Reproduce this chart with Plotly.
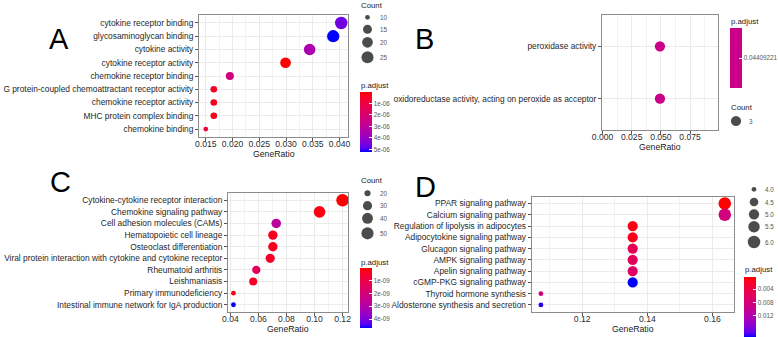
import numpy as np
import plotly.graph_objects as go

W, H = 778, 337
FONT = "Liberation Sans, Arial, sans-serif"

# ---------------- data (terms listed top to bottom) ----------------
a_terms = ["cytokine receptor binding", "glycosaminoglycan binding", "cytokine activity",
           "cytokine receptor activity", "chemokine receptor binding",
           "G protein-coupled chemoattractant receptor activity", "chemokine receptor activity",
           "MHC protein complex binding", "chemokine binding"]
a_ratio = [0.0403, 0.0388, 0.0344, 0.0299, 0.0195, 0.0165, 0.0165, 0.0165, 0.0150]
a_count = [27, 26, 23, 20, 13, 11, 11, 11, 10]
a_padj = [4.6e-06, 5.22e-06, 3.5e-06, 1.5e-08, 2.3e-06, 4.0e-07, 3.5e-07, 3.5e-07, 8.0e-07]
a_size_breaks = [10, 15, 20, 25]
a_col_breaks = [1e-06, 2e-06, 3e-06, 4e-06, 5e-06]
a_col_labels = ["1e-06", "2e-06", "3e-06", "4e-06", "5e-06"]

b_terms = ["peroxidase activity", "oxidoreductase activity, acting on peroxide as acceptor"]
b_ratio = [0.0492, 0.0492]
b_count = [3, 3]
b_padj = [0.04409221, 0.04409221]
b_size_breaks = [3]
b_col_breaks = [0.04409221]
b_col_labels = ["0.04409221"]

c_terms = ["Cytokine-cytokine receptor interaction", "Chemokine signaling pathway",
           "Cell adhesion molecules (CAMs)", "Hematopoietic cell lineage",
           "Osteoclast differentiation",
           "Viral protein interaction with cytokine and cytokine receptor",
           "Rheumatoid arthritis", "Leishmaniasis", "Primary immunodeficiency",
           "Intestinal immune network for IgA production"]
c_ratio = [0.1200, 0.1036, 0.0727, 0.0703, 0.0703, 0.0684, 0.0585, 0.0563, 0.0422, 0.0422]
c_count = [53, 46, 32, 31, 31, 30, 26, 25, 19, 19]
c_padj = [1e-11, 2.0e-10, 2.8e-09, 3.0e-10, 3.5e-10, 4.5e-10, 1.4e-09, 5.0e-10, 2.0e-10, 4.7e-09]
c_size_breaks = [20, 30, 40, 50]
c_col_breaks = [1e-09, 2e-09, 3e-09, 4e-09]
c_col_labels = ["1e-09", "2e-09", "3e-09", "4e-09"]

d_terms = ["PPAR signaling pathway", "Calcium signaling pathway",
           "Regulation of lipolysis in adipocytes", "Adipocytokine signaling pathway",
           "Glucagon signaling pathway", "AMPK signaling pathway", "Apelin signaling pathway",
           "cGMP-PKG signaling pathway", "Thyroid hormone synthesis",
           "Aldosterone synthesis and secretion"]
d_ratio = [0.1638, 0.1638, 0.1355, 0.1355, 0.1355, 0.1355, 0.1355, 0.1355, 0.1073, 0.1073]
d_count = [6, 6, 5, 5, 5, 5, 5, 5, 4, 4]
d_padj = [0.0003, 0.0085, 0.0010, 0.0012, 0.0050, 0.0056, 0.0064, 0.0185, 0.0085, 0.0180]
d_size_breaks = [4.0, 4.5, 5.0, 5.5, 6.0]
d_size_labels = ["4.0", "4.5", "5.0", "5.5", "6.0"]
d_col_breaks = [0.004, 0.008, 0.012]
d_col_labels = ["0.004", "0.008", "0.012"]


# ---------------- helpers ----------------
def srgb_to_lab(rgb):
    c = np.array(rgb, float) / 255.0
    c = np.where(c > 0.04045, ((c + 0.055) / 1.055) ** 2.4, c / 12.92)
    M = np.array([[0.4124, 0.3576, 0.1805], [0.2126, 0.7152, 0.0722], [0.0193, 0.1192, 0.9505]])
    xyz = M @ c / np.array([0.95047, 1.0, 1.08883])
    f = np.where(xyz > 0.008856, np.cbrt(xyz), 7.787 * xyz + 16 / 116)
    return np.array([116 * f[1] - 16, 500 * (f[0] - f[1]), 200 * (f[1] - f[2])])


def lab_to_srgb(lab):
    L, a, b = lab
    fy = (L + 16) / 116
    fx, fz = fy + a / 500, fy - b / 200
    f = np.array([fx, fy, fz])
    xyz = np.where(f ** 3 > 0.008856, f ** 3, (f - 16 / 116) / 7.787) * np.array([0.95047, 1.0, 1.08883])
    Mi = np.array([[3.2406, -1.5372, -0.4986], [-0.9689, 1.8758, 0.0415], [0.0557, -0.2040, 1.0570]])
    c = np.clip(Mi @ xyz, 0, 1)
    c = np.where(c > 0.0031308, 1.055 * c ** (1 / 2.4) - 0.055, 12.92 * c)
    r, g, bb = np.clip(np.round(c * 255), 0, 255).astype(int)
    return f"rgb({r},{g},{bb})"


lab_red, lab_blue = srgb_to_lab([255, 0, 0]), srgb_to_lab([0, 0, 255])
# colour value = -p.adjust, so 0 -> blue (high p), 1 -> red (low p)
CS = [[t, lab_to_srgb(lab_blue + (lab_red - lab_blue) * t)] for t in np.linspace(0, 1, 21)]
MID = lab_to_srgb((lab_red + lab_blue) / 2)

DMIN, DMAX = 4.8, 12.5


def dot_px(vals, lo, hi):
    out = []
    for v in vals:
        t = 0.5 if hi == lo else (v - lo) / (hi - lo)
        out.append(DMIN + (DMAX - DMIN) * np.sqrt(max(t, 0)))
    return out


def xdom(x0, x1):
    return [x0 / W, x1 / W]


def ydom(y0, y1):
    return [1 - y1 / H, 1 - y0 / H]


fig = go.Figure()
annotations = []

panels = [
    dict(key="1", terms=a_terms, ratio=a_ratio, count=a_count, padj=a_padj,
         box=(199, 348, 15, 137), dtick=0.005, tick0=0.015, fmt=".3f", xr=None,
         cb=(360, 92), cbt=(360, 85), cbb=a_col_breaks, cbl=a_col_labels,
         cnt=(360, 5), keys=(367.5, [17.3, 29.3, 42.3, 57.3]), kb=a_size_breaks,
         kl=[str(v) for v in a_size_breaks], klx=378, letter=("A", 59, 38.5)),
    dict(key="2", terms=b_terms, ratio=b_ratio, count=b_count, padj=b_padj,
         box=(602, 718, 15, 130), dtick=0.025, tick0=0.0, fmt=".3f", xr=[-0.0004, 0.0989],
         cb=(730, 28), cbt=(730, 21), cbb=b_col_breaks, cbl=b_col_labels,
         cnt=(730, 107), keys=(736, [121]), kb=b_size_breaks,
         kl=[str(v) for v in b_size_breaks], klx=747, letter=("B", 424.5, 39)),
    dict(key="3", terms=c_terms, ratio=c_ratio, count=c_count, padj=c_padj,
         box=(228, 348, 193.3, 311.7), dtick=0.02, tick0=0.04, fmt=".2f", xr=None,
         cb=(360, 268), cbt=(360, 262), cbb=c_col_breaks, cbl=c_col_labels,
         cnt=(360, 180), keys=(367.5, [193.3, 205.7, 218.3, 233.3]), kb=c_size_breaks,
         kl=[str(v) for v in c_size_breaks], klx=378, letter=("C", 60, 182)),
    dict(key="4", terms=d_terms, ratio=d_ratio, count=d_count, padj=d_padj,
         box=(531.7, 734, 196.7, 311.7), dtick=0.02, tick0=0.12, fmt=".2f", xr=None,
         cb=(744, 277), cbt=(744, 269), cbb=d_col_breaks, cbl=d_col_labels,
         cnt=None, keys=(754, [189.3, 202, 214.3, 226.7, 242]), kb=d_size_breaks,
         kl=d_size_labels, klx=763, letter=("D", 425.5, 187)),
]

lay = {}
for p in panels:
    k = p["key"]
    x0, x1, y0, y1 = p["box"]
    lo, hi = min(p["count"]), max(p["count"])
    pmin, pmax = min(p["padj"]), max(p["padj"])
    if pmin == pmax:
        cmin, cmax = -pmax * 1.001, -pmin * 0.999
        cs = [[0, MID], [1, MID]]
    else:
        cmin, cmax = -pmax, -pmin
        cs = CS
    cat_order = list(reversed(p["terms"]))
    fig.add_trace(go.Scatter(
        x=p["ratio"], y=p["terms"], mode="markers", xaxis="x" + k, yaxis="y" + k,
        showlegend=False, hoverinfo="x+y",
        marker=dict(size=dot_px(p["count"], lo, hi), color=[-v for v in p["padj"]],
                    colorscale=cs, cmin=cmin, cmax=cmax, opacity=1,
                    line=dict(width=0),
                    showscale=True,
                    colorbar=dict(x=p["cb"][0] / W, xanchor="left", xpad=0,
                                  y=1 - p["cb"][1] / H, yanchor="top", ypad=0,
                                  len=60, lenmode="pixels", thickness=12,
                                  thicknessmode="pixels", outlinewidth=0,
                                  ticks="inside", ticklen=3, tickcolor="white",
                                  tickwidth=1,
                                  tickvals=[-v for v in p["cbb"]], ticktext=p["cbl"],
                                  tickfont=dict(size=6.3, color="#555555", family=FONT)))))
    if p["xr"] is None:
        span = max(p["ratio"]) - min(p["ratio"])
        xr = [min(p["ratio"]) - 0.05 * span, max(p["ratio"]) + 0.05 * span]
    else:
        xr = p["xr"]
    lay["xaxis" + k] = dict(
        domain=xdom(x0, x1), anchor="y" + k, range=xr, dtick=p["dtick"], tick0=p["tick0"],
        tickformat=p["fmt"], showgrid=True, gridcolor="#ebebeb", gridwidth=1,
        minor=dict(dtick=p["dtick"] / 2, tick0=p["tick0"] + p["dtick"] / 2, showgrid=True,
                   gridcolor="#f2f2f2", gridwidth=0.6),
        zeroline=False, showline=True, mirror=True, linecolor="#8c8c8c", linewidth=1,
        ticks="outside", ticklen=3, tickcolor="#555555", tickwidth=1, ticklabelstandoff=-4,
        tickfont=dict(size=8.6, color="#2b2b2b", family=FONT), fixedrange=True)
    lay["yaxis" + k] = dict(
        domain=ydom(y0, y1), anchor="x" + k, type="category", categoryorder="array",
        categoryarray=cat_order, range=[-0.6, len(cat_order) - 0.4],
        showgrid=True, gridcolor="#ebebeb", gridwidth=1, zeroline=False,
        showline=True, mirror=True, linecolor="#8c8c8c", linewidth=1,
        ticks="outside", ticklen=3, tickcolor="#555555", tickwidth=1,
        tickfont=dict(size=8.4, color="#1f1f1f", family=FONT), fixedrange=True)

    # axis title
    annotations.append(dict(text="GeneRatio", x=(x0 + x1) / 2, y=y1 + 17, xref="x5", yref="y5",
                            showarrow=False, xanchor="center", yanchor="middle",
                            font=dict(size=8.7, color="#1a1a1a", family=FONT)))
    # legend titles
    annotations.append(dict(text="p.adjust", x=p["cbt"][0] - 1, y=p["cbt"][1], xref="x5", yref="y5",
                            showarrow=False, xanchor="left", yanchor="middle",
                            font=dict(size=7.8, color="#1a1a1a", family=FONT)))
    if p["cnt"] is not None:
        annotations.append(dict(text="Count", x=p["cnt"][0] - 1, y=p["cnt"][1], xref="x5", yref="y5",
                                showarrow=False, xanchor="left", yanchor="middle",
                                font=dict(size=7.8, color="#1a1a1a", family=FONT)))
    # size legend keys
    kx, kys = p["keys"]
    fig.add_trace(go.Scatter(
        x=[kx] * len(kys), y=kys, mode="markers", xaxis="x5", yaxis="y5", showlegend=False,
        hoverinfo="skip", marker=dict(size=dot_px(p["kb"], lo, hi), color="black",
                                      line=dict(width=0))))
    for yy, lab in zip(kys, p["kl"]):
        annotations.append(dict(text=lab, x=p["klx"], y=yy, xref="x5", yref="y5", showarrow=False,
                                xanchor="left", yanchor="middle",
                                font=dict(size=6.3, color="#555555", family=FONT)))
    # panel letter
    L, lx, ly = p["letter"]
    annotations.append(dict(text=L, x=lx, y=ly, xref="x5", yref="y5", showarrow=False,
                            xanchor="center", yanchor="middle",
                            font=dict(size=29, color="black", family=FONT)))

lay["xaxis5"] = dict(domain=[0, 1], range=[0, W], visible=False, fixedrange=True, anchor="y5")
lay["yaxis5"] = dict(domain=[0, 1], range=[H, 0], visible=False, fixedrange=True, anchor="x5")

fig.update_layout(
    width=W, height=H, margin=dict(l=0, r=0, t=0, b=0, pad=0, autoexpand=False),
    paper_bgcolor="white", plot_bgcolor="rgba(0,0,0,0)",
    font=dict(family=FONT), showlegend=False, annotations=annotations, **lay)

fig.write_html("out.html", config={"displayModeBar": False},
               post_script="document.body.style.margin='0';document.body.style.padding='0';"
                           "document.body.style.overflow='hidden';")
